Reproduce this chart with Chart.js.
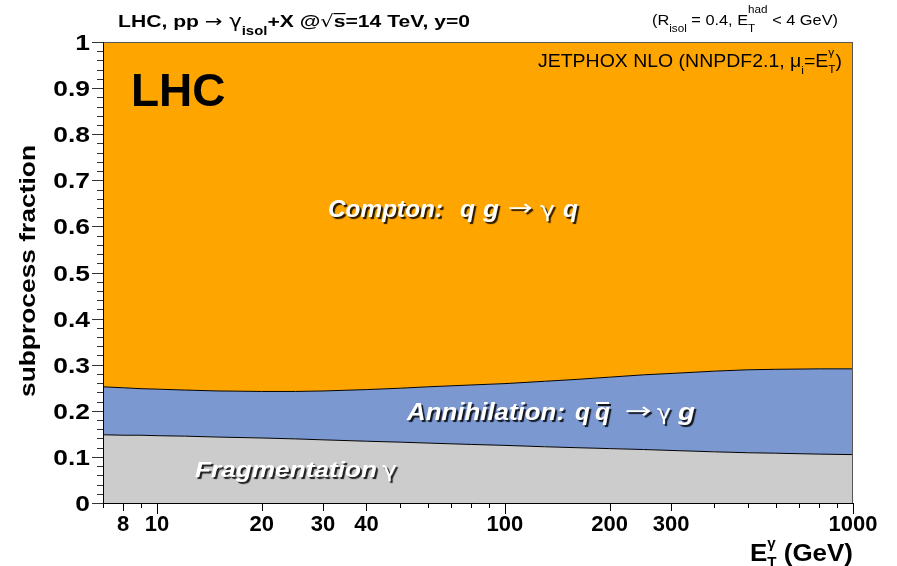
<!DOCTYPE html>
<html>
<head>
<meta charset="utf-8">
<script src="https://cdn.jsdelivr.net/npm/chart.js@4/dist/chart.umd.min.js"></script>
<style>
  html, body { margin: 0; padding: 0; background: #ffffff; }
  #wrap { width: 897px; height: 566px; position: relative; }
</style>
</head>
<body>
<div id="wrap"><canvas id="c" width="897" height="566"></canvas></div>
<script>
// Photon transverse energy bins (GeV)
const energies = [7, 8, 9, 10, 12, 15, 20, 25, 30, 40, 50, 60, 80, 100, 130, 160, 200, 250, 300, 400, 500, 600, 800, 1000];
// Subprocess fractions per bin
const fragmentation = [0.148, 0.147, 0.147, 0.146, 0.145, 0.143, 0.141, 0.139, 0.137, 0.134, 0.132, 0.130, 0.127, 0.125, 0.122, 0.120, 0.118, 0.116, 0.114, 0.111, 0.109, 0.108, 0.106, 0.105];
const annihilation  = [0.104, 0.103, 0.101, 0.101, 0.100, 0.100, 0.101, 0.103, 0.106, 0.112, 0.117, 0.122, 0.129, 0.134, 0.142, 0.148, 0.155, 0.162, 0.167, 0.175, 0.180, 0.182, 0.185, 0.186];
const compton       = [0.748, 0.750, 0.752, 0.753, 0.755, 0.757, 0.758, 0.758, 0.757, 0.754, 0.751, 0.748, 0.744, 0.741, 0.736, 0.732, 0.727, 0.722, 0.719, 0.714, 0.711, 0.710, 0.709, 0.709];

// Axis ticks
const yTickValues = [0, 0.1, 0.2, 0.3, 0.4, 0.5, 0.6, 0.7, 0.8, 0.9, 1];
const yTickLabels = ['0', '0.1', '0.2', '0.3', '0.4', '0.5', '0.6', '0.7', '0.8', '0.9', '1'];
const xTickValues = [8, 10, 20, 30, 40, 100, 200, 300, 1000];
const xTickLabels = ['8', '10', '20', '30', '40', '100', '200', '300', '1000'];

const FONT = '"Liberation Sans", Arial, Helvetica, sans-serif';
const SYM = '"DejaVu Sans", "Liberation Sans", sans-serif';

const toPoints = arr => arr.map((v, i) => ({ x: energies[i], y: v }));

// Width of one run (stacked sub/superscripts take the wider of the two)
function runWidth(ctx, p) {
  ctx.font = p.font;
  if (p.stack) return Math.max(ctx.measureText(p.sup).width, ctx.measureText(p.sub).width);
  return ctx.measureText(p.t).width;
}

// Draw a sequence of text runs on one baseline, stretched horizontally to span [x0, x1]
function drawRunsFit(ctx, x0, x1, y, parts) {
  const widths = parts.map(p => runWidth(ctx, p));
  const total = widths.reduce((a, b) => a + b, 0);
  const sx = (x1 - x0) / total;
  ctx.save();
  ctx.translate(x0, y);
  ctx.scale(sx, 1);
  ctx.textAlign = 'left';
  ctx.textBaseline = 'alphabetic';
  let cx = 0;
  parts.forEach((p, i) => {
    ctx.font = p.font;
    if (p.stack) {
      ctx.fillText(p.sup, cx, p.supDy);
      ctx.fillText(p.sub, cx, p.subDy);
    } else {
      ctx.fillText(p.t, cx, p.dy || 0);
      if (p.over !== undefined) {
        ctx.save();
        ctx.shadowColor = 'transparent';
        ctx.fillRect(cx + (p.overInset || 0), p.over, widths[i] - (p.overInset || 0), p.overW || 1.5);
        ctx.restore();
      }
    }
    cx += widths[i];
  });
  ctx.restore();
}

// Draw a single piece of text with its left edge at x, stretched to width w
function drawPiece(ctx, text, x, y, font, w) {
  ctx.save();
  ctx.font = font;
  const nat = ctx.measureText(text).width;
  ctx.translate(x, y);
  ctx.scale(w ? w / nat : 1, 1);
  ctx.textAlign = 'left';
  ctx.fillText(text, 0, 0);
  ctx.restore();
}

const decorations = {
  id: 'decorations',
  afterDatasetsDraw(chart) {
    const ctx = chart.ctx;
    const a = chart.chartArea;
    const xs = chart.scales.x, ys = chart.scales.y;
    ctx.save();
    // frame
    ctx.strokeStyle = '#555555';
    ctx.lineWidth = 1;
    ctx.strokeRect(a.left + 0.5, a.top + 0.5, a.right - a.left - 1, a.bottom - a.top);
    // axis lines
    ctx.strokeStyle = '#000000';
    ctx.beginPath();
    ctx.moveTo(a.left + 0.5, a.top);
    ctx.lineTo(a.left + 0.5, a.bottom + 0.5);
    ctx.lineTo(a.right, a.bottom + 0.5);
    ctx.stroke();

    // y ticks (majors every 0.1, minors every 0.02)
    ctx.strokeStyle = '#333333';
    ctx.beginPath();
    for (let i = 0; i <= 50; i++) {
      const py = Math.round(ys.getPixelForValue(i * 0.02)) + 0.5;
      const len = i % 5 === 0 ? 11 : 6;
      ctx.moveTo(a.left, py);
      ctx.lineTo(a.left - len, py);
    }
    ctx.stroke();

    // x ticks on the log axis
    ctx.strokeStyle = '#000000';
    ctx.beginPath();
    [1, 10, 100].forEach(d => {
      for (let m = 1; m <= 9; m++) {
        const v = m * d;
        if (v < 7 || v > 1000) continue;
        const px = Math.round(xs.getPixelForValue(v)) + 0.5;
        const len = m === 1 ? 11 : (xTickValues.includes(v) ? 8 : 5);
        ctx.moveTo(px, a.bottom);
        ctx.lineTo(px, a.bottom + len);
      }
    });
    const p1000 = Math.round(xs.getPixelForValue(1000)) + 0.5;
    ctx.moveTo(p1000, a.bottom); ctx.lineTo(p1000, a.bottom + 11);
    ctx.stroke();

    // y tick labels, right-aligned and slightly widened
    ctx.fillStyle = '#000000';
    const yFont = 'bold 22px ' + FONT;
    ctx.font = yFont;
    yTickValues.forEach((v, i) => {
      const s = yTickLabels[i];
      const w = ctx.measureText(s).width * 1.2;
      drawPiece(ctx, s, a.left - 13 - w, ys.getPixelForValue(v) + 8, yFont, w);
    });
    ctx.restore();
  },
  afterDraw(chart) {
    const ctx = chart.ctx;
    ctx.save();
    ctx.fillStyle = '#000000';

    // header
    const B17 = 'bold 17px ' + FONT, B12 = 'bold 12px ' + FONT;
    drawRunsFit(ctx, 118, 470, 27, [
      { t: 'LHC, pp ', font: B17 },
      { t: '\u2192', font: '17px ' + SYM },
      { t: ' \u03B3', font: '17px ' + SYM },
      { t: 'isol', font: B12, dy: 8 },
      { t: '+X @', font: B17 },
      { t: '\u221A', font: '17px ' + SYM },
      { t: 's', font: B17, over: -14, overW: 1.2 },
      { t: '=14 TeV, y=0', font: B17 }
    ]);

    const N14 = '14px ' + FONT, N10 = '10px ' + FONT;
    drawRunsFit(ctx, 652, 838, 25, [
      { t: '(R', font: N14 },
      { t: 'isol', font: N10, dy: 7 },
      { t: ' = 0.4, E', font: N14 },
      { stack: true, sup: 'had', sub: 'T', font: N10, supDy: -12, subDy: 7 },
      { t: ' < 4 GeV)', font: N14 }
    ]);

    const N18 = '18px ' + FONT, N11 = '11px ' + FONT;
    drawRunsFit(ctx, 538, 842, 67, [
      { t: 'JETPHOX NLO (NNPDF2.1, ', font: N18 },
      { t: '\u03BC', font: N18 },
      { t: 'i', font: N11, dy: 7 },
      { t: '=E', font: N18 },
      { stack: true, sup: '\u03B3', sub: 'T', font: N11, supDy: -11, subDy: 6 },
      { t: ')', font: N18 }
    ]);

    ctx.font = 'bold 46px ' + FONT;
    ctx.textAlign = 'left';
    ctx.fillText('LHC', 131, 106);

    // axis titles
    drawRunsFit(ctx, 750, 853, 561, [
      { t: 'E', font: 'bold 24px ' + FONT },
      { stack: true, sup: '\u03B3', sub: 'T', font: 'bold 14px ' + FONT, supDy: -13, subDy: 6 },
      { t: ' (GeV)', font: 'bold 24px ' + FONT }
    ]);

    ctx.save();
    ctx.translate(35, 397);
    ctx.rotate(-Math.PI / 2);
    drawPiece(ctx, 'subprocess fraction', 0, 0, 'bold 22px ' + FONT, 252);
    ctx.restore();

    // subprocess labels
    ctx.fillStyle = '#ffffff';
    ctx.shadowColor = 'rgba(0,0,0,0.85)';
    ctx.shadowOffsetX = 2;
    ctx.shadowOffsetY = 2;
    ctx.shadowBlur = 1;
    const BI = 'italic bold 24px ' + FONT, SY = '22px ' + SYM;

    drawPiece(ctx, 'Compton:', 328, 217, BI, 115);
    drawPiece(ctx, 'q', 460, 217, BI, 15);
    drawPiece(ctx, 'g', 483, 217, BI, 16);
    drawPiece(ctx, '\u2192', 508, 215, SY, 25);
    drawPiece(ctx, '\u03B3', 540, 217, SY, 15);
    drawPiece(ctx, 'q', 563, 217, BI, 15);

    drawPiece(ctx, 'Annihilation:', 407, 420, BI, 158);
    drawPiece(ctx, 'q', 575, 420, BI, 15);
    drawPiece(ctx, 'q', 595, 420, BI, 15);
    ctx.save();
    ctx.shadowBlur = 0;
    ctx.fillRect(596, 402, 13, 2);
    ctx.restore();
    drawPiece(ctx, '\u2192', 625, 418, SY, 27);
    drawPiece(ctx, '\u03B3', 657, 420, SY, 14);
    drawPiece(ctx, 'g', 678, 420, BI, 17);

    drawPiece(ctx, 'Fragmentation', 195, 477, 'italic bold 22px ' + FONT, 182);
    drawPiece(ctx, '\u03B3', 382, 477, '21px ' + SYM, 15);
    ctx.restore();
  }
};

new Chart(document.getElementById('c'), {
  type: 'line',
  data: {
    datasets: [
      { label: 'Fragmentation', data: toPoints(fragmentation), backgroundColor: '#cccccc', borderColor: '#000000', borderWidth: 1, fill: 'origin', pointRadius: 0, tension: 0 },
      { label: 'Annihilation', data: toPoints(annihilation), backgroundColor: '#7b98d1', borderColor: '#000000', borderWidth: 1, fill: '-1', pointRadius: 0, tension: 0 },
      { label: 'Compton', data: toPoints(compton), backgroundColor: '#ffa500', borderColor: '#ffa500', borderWidth: 0, fill: '-1', pointRadius: 0, tension: 0 }
    ]
  },
  options: {
    responsive: false,
    animation: false,
    devicePixelRatio: 1,
    layout: { padding: { top: 42, right: 44, left: 0, bottom: 0 } },
    plugins: { legend: { display: false }, tooltip: { enabled: false } },
    scales: {
      x: {
        type: 'logarithmic',
        min: 7,
        max: 1000,
        grid: { display: false, drawTicks: false },
        border: { display: false },
        afterBuildTicks: s => { s.ticks = xTickValues.map(v => ({ value: v })); },
        afterFit: s => { s.height = 63; },
        ticks: {
          autoSkip: false,
          maxRotation: 0,
          padding: 9,
          color: '#000000',
          font: { family: FONT, size: 22, weight: 'bold' },
          callback: v => { const i = xTickValues.indexOf(v); return i >= 0 ? xTickLabels[i] : ''; }
        }
      },
      y: {
        stacked: true,
        min: 0,
        max: 1,
        grid: { display: false, drawTicks: false },
        border: { display: false },
        afterBuildTicks: s => { s.ticks = yTickValues.map(v => ({ value: v })); },
        afterFit: s => { s.width = 103; },
        ticks: { display: false }
      }
    }
  },
  plugins: [decorations]
});
</script>
</body>
</html>
